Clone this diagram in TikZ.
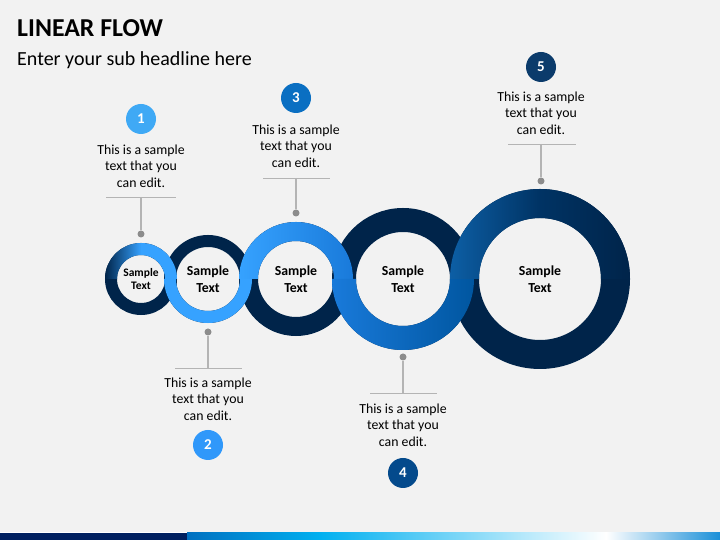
\documentclass[tikz,border=0pt]{standalone}
\usepackage{fontspec}
\setmainfont{Carlito}
\definecolor{bg}{RGB}{242,242,242}
\definecolor{navy}{RGB}{0,36,74}
\definecolor{light}{RGB}{54,162,255}
\definecolor{midblue}{RGB}{25,122,218}
\definecolor{deepblue}{RGB}{0,86,160}
\definecolor{dotgray}{RGB}{140,140,140}
\definecolor{linegray}{RGB}{180,180,180}
\definecolor{num1}{RGB}{63,169,245}
\definecolor{num2}{RGB}{48,152,250}
\definecolor{num3}{RGB}{10,111,194}
\definecolor{num4}{RGB}{4,74,140}
\definecolor{num5}{RGB}{11,59,107}
\definecolor{barnavy}{RGB}{0,32,96}
\definecolor{barblue}{RGB}{0,112,192}
\definecolor{barcyan}{RGB}{0,176,240}
\definecolor{barend}{RGB}{26,143,216}
\begin{document}
\begin{tikzpicture}[x=1pt,y=1pt]
		\useasboundingbox (0,0) rectangle (720,540);
		\fill[bg] (0,0) rectangle (720,540);

		\draw (17,503) node (title)[anchor=base west,inner sep=0pt,font=\fontsize{25.8}{30}\selectfont\bfseries]{LINEAR FLOW};
		\draw (17,474) node (sub)[anchor=base west,inner sep=0pt,font=\fontsize{20}{24}\selectfont]{Enter your sub headline here};

		\draw (141,261) coordinate (r1);
		\draw (208,261) coordinate (r2);
		\draw (296,261) coordinate (r3);
		\draw (403,261) coordinate (r4);
		\draw (540,261) coordinate (r5);

		\draw[navy,line width=12pt] (r1) circle[radius=30pt];
		\draw[navy,line width=12pt] (r2) circle[radius=38pt];
		\draw[navy,line width=19pt] (r3) circle[radius=47.5pt];
		\draw[navy,line width=24pt] (r4) circle[radius=59pt];
		\draw[navy,line width=29pt] (r5) circle[radius=75.5pt];

		\shade[left color=navy,right color=light,middle color=light] (r1) ++(180:36pt) arc[start angle=180,end angle=0,radius=36pt] -- ++(-12pt,0) arc[start angle=0,end angle=180,radius=24pt] -- cycle;
		\fill[light] (r2) ++(180:44pt) arc[start angle=180,end angle=360,radius=44pt] -- ++(-12pt,0) arc[start angle=360,end angle=180,radius=32pt] -- cycle;
		\shade[left color=light,right color=midblue] (r3) ++(180:57pt) arc[start angle=180,end angle=0,radius=57pt] -- ++(-19pt,0) arc[start angle=0,end angle=180,radius=38pt] -- cycle;
		\shade[left color=midblue,right color=deepblue] (r4) ++(180:71pt) arc[start angle=180,end angle=360,radius=71pt] -- ++(-24pt,0) arc[start angle=360,end angle=180,radius=47pt] -- cycle;
		\shade[left color=deepblue!95!white,right color=navy,middle color=navy!70!deepblue] (r5) ++(180:90pt) arc[start angle=180,end angle=0,radius=90pt] -- ++(-29pt,0) arc[start angle=0,end angle=180,radius=61pt] -- cycle;

		\draw (r1) node (s1)[align=center,font=\fontsize{11.5}{13.5}\selectfont\bfseries]{Sample\\Text};
		\draw (r2) node (s2)[align=center,font=\fontsize{13.8}{16.5}\selectfont\bfseries]{Sample\\Text};
		\draw (r3) node (s3)[align=center,font=\fontsize{13.8}{16.5}\selectfont\bfseries]{Sample\\Text};
		\draw (r4) node (s4)[align=center,font=\fontsize{13.8}{16.5}\selectfont\bfseries]{Sample\\Text};
		\draw (r5) node (s5)[align=center,font=\fontsize{13.8}{16.5}\selectfont\bfseries]{Sample\\Text};

		\draw (141,421) node (n1)[circle,fill=num1,text=white,minimum size=30pt,inner sep=0pt,font=\fontsize{15}{17}\selectfont\bfseries]{1};
		\draw (141,374) node (x1)[align=center,font=\fontsize{13.8}{16.5}\selectfont]{This is a sample\\text that you\\can edit.};
		\draw (141,343) coordinate (h1);
		\draw (106,343) coordinate (h1a);
		\draw (176,343) coordinate (h1b);
		\draw (141,306) node (d1)[circle,fill=dotgray,minimum size=7pt,inner sep=0pt]{};
		\draw[linegray] (h1a)--(h1b);
		\draw[linegray,line width=1.2pt] (h1)--(d1);

		\draw (208,208) node (d2)[circle,fill=dotgray,minimum size=7pt,inner sep=0pt]{};
		\draw (208,172) coordinate (h2);
		\draw (175,172) coordinate (h2a);
		\draw (242,172) coordinate (h2b);
		\draw (208,141) node (x2)[align=center,font=\fontsize{13.8}{16.5}\selectfont]{This is a sample\\text that you\\can edit.};
		\draw (208,95) node (n2)[circle,fill=num2,text=white,minimum size=30pt,inner sep=0pt,font=\fontsize{15}{17}\selectfont\bfseries]{2};
		\draw[linegray] (h2a)--(h2b);
		\draw[linegray,line width=1.2pt] (h2)--(d2);

		\draw (296,442) node (n3)[circle,fill=num3,text=white,minimum size=30pt,inner sep=0pt,font=\fontsize{15}{17}\selectfont\bfseries]{3};
		\draw (296,394) node (x3)[align=center,font=\fontsize{13.8}{16.5}\selectfont]{This is a sample\\text that you\\can edit.};
		\draw (296,362) coordinate (h3);
		\draw (263,362) coordinate (h3a);
		\draw (330,362) coordinate (h3b);
		\draw (296,327) node (d3)[circle,fill=dotgray,minimum size=7pt,inner sep=0pt]{};
		\draw[linegray] (h3a)--(h3b);
		\draw[linegray,line width=1.2pt] (h3)--(d3);

		\draw (403,183) node (d4)[circle,fill=dotgray,minimum size=7pt,inner sep=0pt]{};
		\draw (403,147) coordinate (h4);
		\draw (370,147) coordinate (h4a);
		\draw (437,147) coordinate (h4b);
		\draw (403,115) node (x4)[align=center,font=\fontsize{13.8}{16.5}\selectfont]{This is a sample\\text that you\\can edit.};
		\draw (403,67) node (n4)[circle,fill=num4,text=white,minimum size=30pt,inner sep=0pt,font=\fontsize{15}{17}\selectfont\bfseries]{4};
		\draw[linegray] (h4a)--(h4b);
		\draw[linegray,line width=1.2pt] (h4)--(d4);

		\draw (541,473) node (n5)[circle,fill=num5,text=white,minimum size=30pt,inner sep=0pt,font=\fontsize{15}{17}\selectfont\bfseries]{5};
		\draw (541,427) node (x5)[align=center,font=\fontsize{13.8}{16.5}\selectfont]{This is a sample\\text that you\\can edit.};
		\draw (541,396) coordinate (h5);
		\draw (508,396) coordinate (h5a);
		\draw (576,396) coordinate (h5b);
		\draw (541,359) node (d5)[circle,fill=dotgray,minimum size=7pt,inner sep=0pt]{};
		\draw[linegray] (h5a)--(h5b);
		\draw[linegray,line width=1.2pt] (h5)--(d5);

		\fill[white] (0,7) rectangle (720,8);
		\fill[barnavy] (0,0) rectangle (187,7);
		\shade[left color=barblue,right color=barcyan] (187,0) rectangle (320,7);
		\shade[left color=barcyan,right color=white] (320,0) rectangle (606,7);
		\shade[left color=white,right color=barend] (606,0) rectangle (720,7);
	\end{tikzpicture}
\end{document}
